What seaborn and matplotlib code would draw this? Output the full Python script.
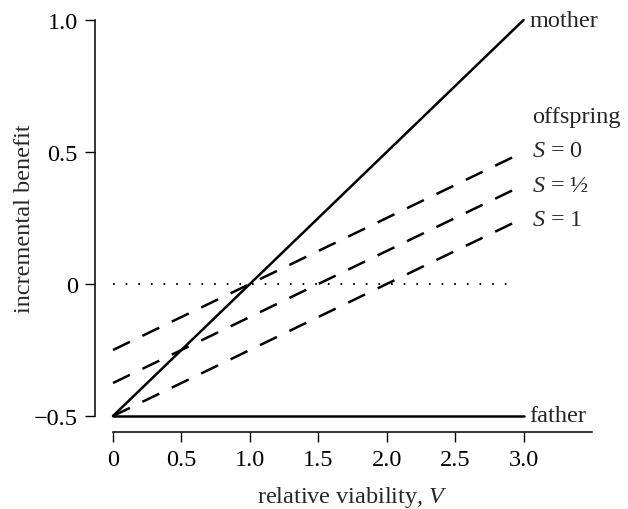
import matplotlib
matplotlib.use("Agg")
import matplotlib.pyplot as plt
import seaborn as sns
import pandas as pd

# ---- data ----
V = [0.0, 3.0]
mother = [-0.5, 1.0]
father = [-0.5, -0.5]
offspring_S0 = [-0.25, 0.5]
offspring_Shalf = [-0.375, 0.375]
offspring_S1 = [-0.5, 0.25]
zero_V = [0.0, 2.92]
zero_y = [0.0, 0.0]

x_ticks = [0, 0.5, 1.0, 1.5, 2.0, 2.5, 3.0]
x_ticklabels = ["0", "0.5", "1.0", "1.5", "2.0", "2.5", "3.0"]
y_ticks = [-0.5, 0, 0.5, 1.0]
y_ticklabels = ["\u22120.5", "0", "0.5", "1.0"]

sns.set_style("ticks")
plt.rcParams["font.family"] = ["Liberation Serif", "DejaVu Serif"]
plt.rcParams["mathtext.fontset"] = "custom"
plt.rcParams["mathtext.rm"] = "Liberation Serif"
plt.rcParams["mathtext.it"] = "Liberation Serif:italic"
plt.rcParams["lines.scale_dashes"] = False

FS = 17.5
fig = plt.figure(figsize=(6.28, 5.10), dpi=100)
W, H = 628, 510
ax = fig.add_axes([113 / W, (H - 417) / H, (592 - 113) / W, (417 - 21) / H])

lw = 1.8
sns.lineplot(x=V, y=mother, color="black", linewidth=lw, ax=ax, clip_on=False)
sns.lineplot(x=V, y=father, color="black", linewidth=lw, ax=ax, clip_on=False)
for ys in (offspring_S0, offspring_Shalf, offspring_S1):
    sns.lineplot(x=V, y=ys, color="black", linewidth=lw, ax=ax, clip_on=False,
                 linestyle=(0, (13.5, 10.0)))
sns.lineplot(x=zero_V, y=zero_y, color="black", linewidth=1.4, ax=ax, clip_on=False,
             linestyle=(0, (1.2, 7.9)))

ax.set_xlim(0, 3.5)
ax.set_ylim(-0.5, 1.0)
ax.set_xticks(x_ticks)
ax.set_xticklabels(x_ticklabels)
ax.set_yticks(y_ticks)
ax.set_yticklabels(y_ticklabels)
ax.tick_params(axis="both", direction="out", length=7.2, width=1.0,
               labelsize=FS, pad=5, color="black", labelcolor="black")

for s in ("top", "right"):
    ax.spines[s].set_visible(False)
ax.spines["left"].set_position(("outward", 13))
ax.spines["bottom"].set_position(("outward", 11.5))
ax.spines["left"].set_bounds(-0.5, 1.0)
ax.spines["bottom"].set_bounds(0, 3.5)
for s in ("left", "bottom"):
    ax.spines[s].set_linewidth(1.1)
    ax.spines[s].set_color("black")

ax.set_xlabel("relative viability, $V$", fontsize=FS, labelpad=10)
ax.set_ylabel("incremental benefit", fontsize=FS, labelpad=-1)

tx = 3.06
ax.text(3.04, 1.0, "mother", fontsize=FS, va="center", ha="left")
ax.text(3.04, -0.5, "father", fontsize=FS, va="center", ha="left")
ax.text(tx, 0.633, "offspring", fontsize=FS, va="center", ha="left")
ax.text(tx, 0.505, "$S$ = 0", fontsize=FS, va="center", ha="left")
ax.text(tx, 0.375, "$S$ = \u00bd", fontsize=FS, va="center", ha="left")
ax.text(tx, 0.245, "$S$ = 1", fontsize=FS, va="center", ha="left")

fig.savefig("out.png", dpi=100)
